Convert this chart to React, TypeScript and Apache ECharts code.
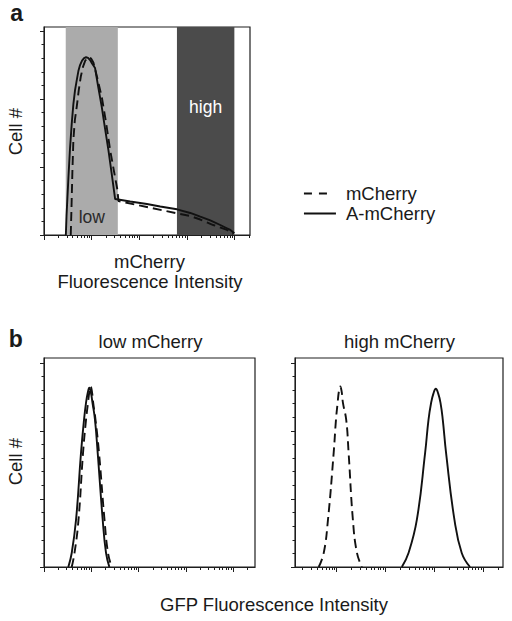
import React, { useEffect, useRef } from "react";
import * as echarts from "echarts";

// ---- data (x in log10 decades of fluorescence intensity, y = cell count) ----
const bandLow = [0.456, 1.548];
const bandHigh = [2.788, 3.992];
const bandLabels = ["low", "high"];

const aSolid: number[][] = [
  [0.458, 0], [0.473, 29.4], [0.494, 58.8], [0.515, 88.2], [0.546, 127.9],
  [0.582, 164.3], [0.616, 192.6], [0.651, 213.2], [0.687, 227.9], [0.721, 241.2],
  [0.756, 250], [0.798, 256.6], [0.84, 260.3], [0.882, 261.5], [0.924, 260.6],
  [0.966, 257.4], [1.008, 252.2], [1.071, 245.6], [1.134, 219.1], [1.212, 188.2],
  [1.282, 155.9], [1.351, 125], [1.418, 91.2], [1.492, 52.9], [1.807, 49.3],
  [2.158, 45.6], [2.437, 41.9], [2.788, 37.8], [3.067, 32.4], [3.277, 26.9],
  [3.487, 21.6], [3.697, 14.7], [3.824, 10.3], [3.908, 7.4], [3.992, 2.5],
];
const aDashed: number[][] = [
  [0.561, 0], [0.578, 44.1], [0.595, 92.6], [0.616, 139.7], [0.647, 169.1],
  [0.687, 188.7], [0.729, 213.2], [0.771, 232.8], [0.819, 247.8], [0.861, 255.9],
  [0.903, 260.3], [0.945, 261.8], [0.987, 259.6], [1.036, 253.7], [1.113, 232.4],
  [1.212, 202.9], [1.303, 164.7], [1.387, 125], [1.471, 92.6], [1.54, 66.2],
  [1.561, 50], [2.158, 41.2], [2.788, 31.9], [3.067, 27.9], [3.277, 22.8],
  [3.55, 14.7], [3.838, 7.4], [3.971, 1.5],
];
const bLowSolid: number[][] = [
  [0.514, 0], [0.586, 20.6], [0.677, 69.1], [0.782, 167.6], [0.846, 216.2],
  [0.888, 241.2], [0.925, 256], [0.958, 263.2], [0.992, 256], [1.025, 241.2],
  [1.078, 216.2], [1.135, 167.6], [1.241, 69.1], [1.311, 20.6], [1.381, 0],
];
const bLowDashed: number[][] = [
  [0.586, 0], [0.645, 20.6], [0.729, 69.1], [0.825, 167.6], [0.888, 216.2],
  [0.93, 241.2], [0.958, 257], [0.987, 265], [1.015, 257], [1.04, 241.2],
  [1.089, 216.2], [1.163, 167.6], [1.279, 69.1], [1.353, 20.6], [1.431, 0],
];
const bHighDashed: number[][] = [
  [0.632, 0], [0.734, 20.1], [0.822, 69.1], [0.939, 167.6], [0.986, 216.2],
  [1.02, 241.2], [1.046, 258], [1.074, 265.1], [1.102, 258], [1.129, 241.2],
  [1.196, 216.2], [1.245, 167.6], [1.333, 69.1], [1.415, 21.0], [1.517, 0],
];
const bHighSolid: number[][] = [
  [2.335, 0], [2.472, 20.6], [2.642, 69.1], [2.812, 167.6], [2.881, 216.2],
  [2.935, 241.2], [2.983, 255], [3.031, 261.8], [3.079, 255], [3.127, 241.2],
  [3.174, 216.2], [3.241, 167.6], [3.413, 69.1], [3.562, 20.6], [3.732, 0],
];

const seriesNames = ["mCherry", "A-mCherry"];
const panelTitles = ["low mCherry", "high mCherry"];
const yMajor = [0, 100, 200, 300];
const yMinor = [20, 40, 60, 80, 120, 140, 160, 180, 220, 240, 260, 280];
const decades = [0, 1, 2, 3, 4];
const minorMult = [2, 3, 4, 5, 6, 7, 8, 9];

const FONT = "'Liberation Sans', Arial, Helvetica, sans-serif";
const INK = "#111";
const AX = "#1e1e1e";
const FS = 18.5;

function xTickSets(min: number, max: number) {
  const major = decades.filter((d) => d >= min - 1e-9 && d <= max + 1e-9);
  const minor: number[] = [];
  decades.forEach((d) => minorMult.forEach((m) => {
    const v = d + Math.log10(m);
    if (v > min && v < max) minor.push(v);
  }));
  return { major, minor };
}

function axesFor(grid: number, xMin: number, xMax: number, yMax: number) {
  const t = xTickSets(xMin, xMax);
  const ls = { color: AX, width: 1 };
  const base = { axisLabel: { show: false }, splitLine: { show: false } };
  const x = [
    { ...base, type: "value", gridIndex: grid, min: xMin, max: xMax, position: "bottom",
      axisLine: { show: true, lineStyle: ls }, axisTick: { show: true, length: 5, customValues: t.major, lineStyle: ls } },
    { ...base, type: "value", gridIndex: grid, min: xMin, max: xMax, position: "bottom",
      axisLine: { show: false }, axisTick: { show: true, length: 3, customValues: t.minor, lineStyle: ls } },
  ];
  const y = [
    { ...base, type: "value", gridIndex: grid, min: 0, max: yMax, position: "left",
      axisLine: { show: true, lineStyle: ls }, axisTick: { show: true, length: 4, customValues: yMajor, lineStyle: ls } },
    { ...base, type: "value", gridIndex: grid, min: 0, max: yMax, position: "left",
      axisLine: { show: false }, axisTick: { show: true, length: 2.5, customValues: yMinor, lineStyle: ls } },
  ];
  return { x, y };
}

function line(name: string, data: number[][], axisBase: number, dashed: boolean, smooth: number) {
  return {
    type: "line", name, data, xAxisIndex: axisBase, yAxisIndex: axisBase,
    smooth, symbol: "none", z: 3,
    lineStyle: { color: INK, width: 1.9, type: dashed ? [9, 5] : "solid" },
    itemStyle: { color: INK },
  };
}

function text(t: string, x: number, y: number, size: number, extra: any = {}) {
  const { bold, ...rest } = extra;
  return {
    type: "text", x, y, ...rest,
    style: { text: t, fill: "#1a1a1a", font: `${bold ? "bold " : ""}${size}px ${FONT}`, textAlign: "center", textVerticalAlign: "middle" },
  };
}

export default function App() {
  const ref = useRef<HTMLDivElement>(null);
  useEffect(() => {
    document.body.style.margin = "0";
    const chart = echarts.init(ref.current!, null, { renderer: "svg" });
    const A = axesFor(0, 0, 4.32, 306);
    const B1 = axesFor(1, 0, 4.46, 307);
    const B2 = axesFor(2, 0.147, 4.407, 307);
    const gridStyle = { show: true, borderColor: AX, borderWidth: 1.2, backgroundColor: "transparent" };
    chart.setOption({
      animation: false,
      grid: [
        { left: 44, top: 27, width: 206, height: 208, ...gridStyle },
        { left: 44, top: 358, width: 211, height: 209, ...gridStyle },
        { left: 295, top: 358, width: 208, height: 209, ...gridStyle },
      ],
      xAxis: [...A.x, ...B1.x, ...B2.x],
      yAxis: [...A.y, ...B1.y, ...B2.y],
      legend: {
        orient: "vertical", left: 298, top: 179, itemWidth: 32, itemHeight: 14, itemGap: 1,
        selectedMode: false,
        itemStyle: { opacity: 0 },
        textStyle: { fontSize: FS, color: "#1a1a1a", fontFamily: FONT, padding: [0, 0, 0, 5] },
        data: [
          { name: seriesNames[0], itemStyle: { opacity: 0 }, lineStyle: { type: [8, 7, 8, 20], width: 1.9, color: INK } },
          { name: seriesNames[1], itemStyle: { opacity: 0 }, lineStyle: { type: "solid", width: 1.9, color: INK } },
        ],
      },
      series: [
        {
          type: "line", name: "bands", data: [], xAxisIndex: 0, yAxisIndex: 0, z: 1,
          markArea: {
            silent: true, z: 1,
            data: [
              [
                { name: bandLabels[0], xAxis: bandLow[0], itemStyle: { color: "#ababab" },
                  label: { show: true, position: "insideBottom", distance: 9, color: "#2a2a2a", fontSize: 17.5, fontFamily: FONT } },
                { xAxis: bandLow[1] },
              ],
              [
                { name: bandLabels[1], xAxis: bandHigh[0], itemStyle: { color: "#4b4b4b" },
                  label: { show: true, position: "insideTop", distance: 71, color: "#ffffff", fontSize: 17.5, fontFamily: FONT } },
                { xAxis: bandHigh[1] },
              ],
            ],
          },
        },
        line(seriesNames[0], aDashed, 0, true, 0),
        line(seriesNames[1], aSolid, 0, false, 0),
        line(seriesNames[0], bLowDashed, 2, true, 0.45),
        line(seriesNames[1], bLowSolid, 2, false, 0.45),
        line(seriesNames[0], bHighDashed, 4, true, 0.45),
        line(seriesNames[1], bHighSolid, 4, false, 0.45),
      ],
      graphic: [
        text("a", 16.7, 13, 23, { bold: true }),
        text("b", 15.7, 339, 23, { bold: true }),
        text("Cell #", 15.3, 131.7, FS, { rotation: Math.PI / 2 }),
        text("Cell #", 15.3, 461.7, FS, { rotation: Math.PI / 2 }),
        text("mCherry", 149.5, 261.8, FS),
        text("Fluorescence Intensity", 150, 281.8, FS),
        text(panelTitles[0], 150.5, 341.8, FS),
        text(panelTitles[1], 399.5, 341.8, FS),
        text("GFP Fluorescence Intensity", 274, 604.5, FS),
      ],
    });
    return () => chart.dispose();
  }, []);
  return <div ref={ref} style={{ width: 512, height: 621 }} />;
}
